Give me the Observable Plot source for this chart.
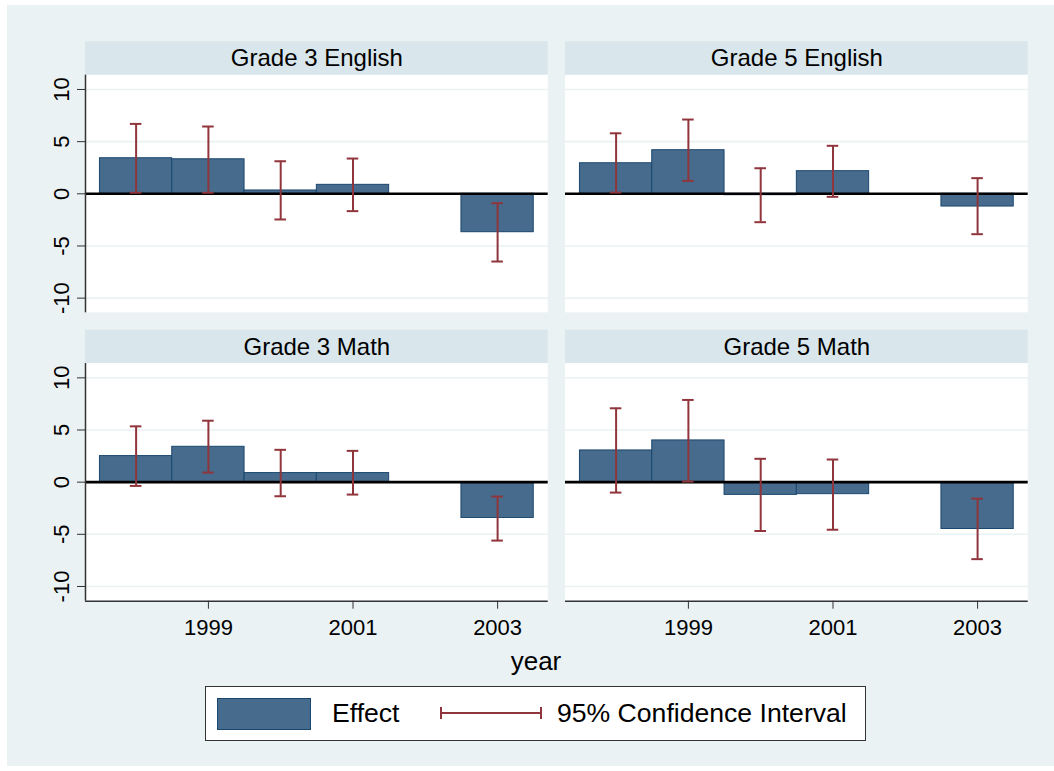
<!DOCTYPE html>
<html>
<head>
<meta charset="utf-8">
<script src="https://cdn.jsdelivr.net/npm/d3@7"></script>
<script src="https://cdn.jsdelivr.net/npm/@observablehq/plot@0.6"></script>
<style>
  body { margin: 0; background: #fff; font-family: "Liberation Sans", Arial, sans-serif; }
  #page { position: relative; width: 1054px; height: 771px; overflow: hidden; }
  #bg { position: absolute; left: 7px; top: 5px; width: 1047px; height: 761px; background: #EAF2F3; }
  #chart { position: absolute; left: 7px; top: 5px; }
  #xtitle { position: absolute; left: 436px; width: 200px; top: 646px; text-align: center; font-size: 26px; color: #000; }
  #legend { position: absolute; left: 205px; top: 686px; width: 659px; height: 53px; background: #fff; border: 1px solid #333; }
  #legend .sw { position: absolute; left: 11px; top: 11px; width: 94px; height: 32px; box-sizing: border-box; background: #476B8C; border: 1px solid #1A476F; }
  #legend .lab { position: absolute; top: 0; height: 53px; line-height: 53px; font-size: 26.6px; color: #000; white-space: nowrap; }
  #legend svg { position: absolute; left: 234px; top: 19px; }
</style>
</head>
<body>
<div id="page">
  <div id="bg"></div>
  <div id="chart"></div>
  <div id="xtitle">year</div>
  <div id="legend">
    <div class="sw"></div>
    <div class="lab" style="left:126px">Effect</div>
    <svg width="102" height="14"><line x1="1" x2="101" y1="7" y2="7" stroke="#90353B" stroke-width="2"/><line x1="1" x2="1" y1="1" y2="13" stroke="#90353B" stroke-width="2"/><line x1="101" x2="101" y1="1" y2="13" stroke="#90353B" stroke-width="2"/></svg>
    <div class="lab" style="left:351px">95% Confidence Interval</div>
  </div>
</div>
<script>
// ---- data ----
const years = [1998, 1999, 2000, 2001, 2003];
const grades = ["Grade 3", "Grade 5"];
const subjects = ["English", "Math"];
const yTicks = [-10, -5, 0, 5, 10];
const xTicks = [1999, 2001, 2003];

const effectG3Eng = [3.41, 3.31, 0.32, 0.86, -3.68];
const lowG3Eng    = [0.10, 0.10, -2.46, -1.66, -6.49];
const highG3Eng   = [6.70, 6.45, 3.12, 3.38, -0.90];

const effectG5Eng = [2.93, 4.18, -0.13, 2.17, -1.22];
const lowG5Eng    = [0.12, 1.24, -2.72, -0.29, -3.87];
const highG5Eng   = [5.80, 7.12, 2.45, 4.60, 1.50];

const effectG3Math = [2.50, 3.39, 0.87, 0.87, -3.43];
const lowG3Math    = [-0.36, 0.92, -1.35, -1.19, -5.60];
const highG3Math   = [5.35, 5.89, 3.10, 3.00, -1.38];

const effectG5Math = [3.04, 4.00, -1.22, -1.15, -4.49];
const lowG5Math    = [-1.00, 0.06, -4.68, -4.56, -7.38];
const highG5Math   = [7.08, 7.88, 2.24, 2.17, -1.58];

// ---- tables ----
const panels = [
  {grade: "Grade 3", subject: "English", effect: effectG3Eng, low: lowG3Eng, high: highG3Eng},
  {grade: "Grade 5", subject: "English", effect: effectG5Eng, low: lowG5Eng, high: highG5Eng},
  {grade: "Grade 3", subject: "Math", effect: effectG3Math, low: lowG3Math, high: highG3Math},
  {grade: "Grade 5", subject: "Math", effect: effectG5Math, low: lowG5Math, high: highG5Math}
].map(p => ({...p, title: `${p.grade} ${p.subject}`}));

const rows = panels.flatMap(p => years.map((year, i) => ({
  grade: p.grade, subject: p.subject, year,
  effect: p.effect[i], low: p.low[i], high: p.high[i]
})));

const leftPanels = panels.filter(p => p.grade === grades[0]);
const bottomPanels = panels.filter(p => p.subject === subjects[subjects.length - 1]);

// ---- scale settings ----
const xDomain = [1997.3, 2003.7];
const yDomain = [-11.41, 14.57];
const plotTop = 11.37;      // top of the plot region; above it sits the strip
const halfBar = 0.5, capHalf = 0.08;

const navyFill = "#476B8C", navyLine = "#1A476F", maroon = "#90353B";
const fxy = {fx: "grade", fy: "subject"};

const chart = Plot.plot({
  width: 1047,
  height: 675,
  marginLeft: 78,
  marginRight: 26.3,
  marginTop: 36.3,
  marginBottom: 79.3,
  style: {background: "transparent", fontFamily: '"Liberation Sans", Arial, sans-serif', fontSize: "22px", color: "#000"},
  x: {domain: xDomain, label: null},
  y: {domain: yDomain, label: null},
  fx: {domain: grades, paddingInner: 0.036, paddingOuter: 0, round: false, axis: null},
  fy: {domain: subjects, paddingInner: 0.06, paddingOuter: 0, round: false, axis: null},
  marks: [
    Plot.rect(panels, {...fxy, x1: xDomain[0], x2: xDomain[1], y1: yDomain[0], y2: plotTop, fill: "white"}),
    Plot.rect(panels, {...fxy, x1: xDomain[0], x2: xDomain[1], y1: plotTop, y2: yDomain[1], fill: "#D9E6EB"}),
    Plot.ruleY(yTicks.filter(t => t !== 0), {stroke: "#EAF2F3", strokeWidth: 1.6}),
    Plot.rect(rows, {...fxy, x1: d => d.year - halfBar, x2: d => d.year + halfBar, y1: 0, y2: "effect",
      fill: navyFill, stroke: navyLine, strokeWidth: 1}),
    Plot.ruleY([0], {stroke: "#000", strokeWidth: 2.6}),
    Plot.ruleX(rows, {...fxy, x: "year", y1: "low", y2: "high", stroke: maroon, strokeWidth: 2}),
    Plot.ruleY(rows, {...fxy, y: "low", x1: d => d.year - capHalf, x2: d => d.year + capHalf, stroke: maroon, strokeWidth: 2}),
    Plot.ruleY(rows, {...fxy, y: "high", x1: d => d.year - capHalf, x2: d => d.year + capHalf, stroke: maroon, strokeWidth: 2}),
    Plot.ruleX(leftPanels, {...fxy, x: xDomain[0], y1: yDomain[0], y2: plotTop, stroke: "#333", strokeWidth: 1.5}),
    Plot.ruleY(bottomPanels, {...fxy, y: yDomain[0], stroke: "#333", strokeWidth: 1.5}),
    Plot.axisY({ticks: yTicks, tickFormat: d => String(d), tickSize: 8, tickRotate: -90, tickPadding: 9, fontSize: 22,
      stroke: "#333", fill: "#000", label: null}),
    Plot.axisX({ticks: xTicks, tickFormat: d => String(d), tickSize: 8, tickPadding: 10, fontSize: 22,
      stroke: "#333", fill: "#000", label: null}),
    Plot.text(panels, {...fxy, text: "title", frameAnchor: "top", dy: 17, lineAnchor: "middle", fontSize: 24, fill: "#000"})
  ]
});
document.getElementById("chart").appendChild(chart);
</script>
</body>
</html>
